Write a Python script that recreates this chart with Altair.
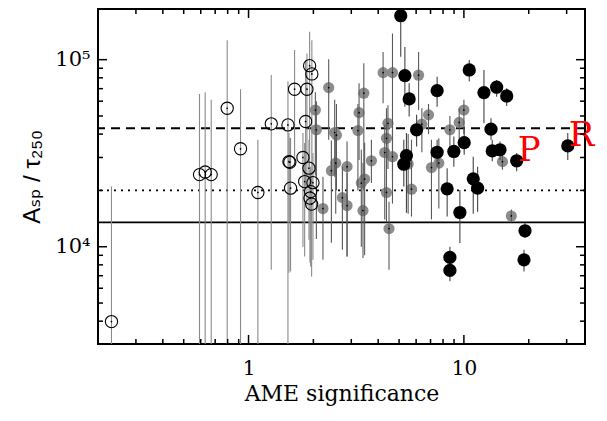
import altair as alt
import pandas as pd

# ---------------- data ----------------
# open circles: low AME significance
open_x = [0.231, 0.592, 0.629, 0.671, 0.796, 0.918, 1.105, 1.275, 1.524, 1.540, 1.555, 1.567,
          1.636, 1.789, 1.822, 1.841, 1.867, 1.921, 1.968, 1.908, 1.991, 1.943, 1.928, 1.963]
open_y = [3980, 24300, 25100, 24300, 55000, 33400, 19500, 45400, 44800, 28500, 28300, 20560,
          69500, 30000, 22300, 46700, 69500, 92900, 83900, 26300, 22000, 19700, 18200, 16900]
open_lo = [1000, 1000, 1000, 1000, 1000, 1000, 1000, 7540, 1000, 7260, 13650, 7380,
           30300, 10000, 8880, 21000, 16400, 26800, 21000, 10900, 8510, 7850, 8230, 6940]
open_hi = [21000, 65600, 67000, 61000, 127000, 69500, 37300, 82800, 76400, 40500, 38000, 38200,
           112700, 40500, 35900, 99600, 108000, 141000, 127000, 37300, 31700, 26800, 25800, 23700]

# grey filled circles: intermediate significance
gray_x = [2.356, 2.043, 2.065, 2.216, 2.512, 2.56, 2.54, 2.425, 2.867, 2.728, 2.867,
          3.26, 3.22, 3.43, 3.72, 3.34, 3.46, 3.40, 4.215, 4.66, 4.44, 4.37, 4.29, 4.66,
          4.37, 4.49, 6.16, 6.38, 6.85, 5.51, 5.71, 7.07, 7.65, 8.61, 9.51, 10.0, 15.1, 16.6]
gray_y = [70900, 53800, 42200, 16000, 40800, 39500, 28000, 25500, 26800, 18300, 16600,
          52100, 41800, 66200, 28800, 21900, 23000, 15600, 85300, 85300, 45700, 38000, 31900, 30300,
          19500, 12500, 82600, 45200, 50700, 27700, 20300, 26500, 28000, 42200, 46200, 53800, 28500, 14600]
gray_lo = [37300, 24000, 11000, 8510, 23700, 20000, 15000, 10500, 8880, 9640, 8880,
           29100, 20000, 20000, 21900, 10000, 9000, 8700, 58500, 22800, 26000, 20000, 14000, 17000,
           13500, 7540, 53800, 32000, 40000, 15000, 14500, 14000, 16000, 32000, 34000, 40000, 25800, 13500]
gray_hi = [100500, 67000, 60000, 23700, 61000, 58000, 40000, 37000, 36500, 26800, 24800,
           74800, 58000, 95700, 37300, 33000, 36000, 28000, 110000, 138000, 57000, 55000, 45000, 42000,
           26000, 17400, 110000, 55000, 58000, 40000, 37300, 37300, 38000, 50000, 55000, 61000, 31700, 15800]

# black filled circles: high significance
black_x = [5.09, 5.32, 5.57, 6.03, 5.41, 5.26, 7.51, 7.51, 8.36, 8.98, 8.61, 8.61, 9.58, 10.03,
           10.59, 11.05, 11.58, 12.39, 13.36, 13.54, 14.71, 14.19, 15.8, 17.58, 19.22, 19.01, 30.36]
black_y = [171800, 82200, 61700, 42200, 30700, 27600, 68300, 32000, 20400, 32300, 8770, 7470, 15240, 36000,
           88100, 23070, 20560, 66700, 42500, 32540, 33000, 71230, 63980, 28800, 12170, 8510, 34600]
black_lo = [103800, 56100, 49700, 34300, 15200, 21000, 56100, 26800, 14500, 26800, 7850, 6530, 10460, 31000,
            76400, 15000, 15400, 45700, 37300, 28600, 29100, 63400, 56600, 25300, 11130, 7380, 29100]
black_hi = [280000, 117000, 74800, 50700, 40500, 37300, 81100, 37300, 26300, 38800, 10000, 8510, 20100, 43900,
            99600, 30300, 26800, 88100, 48600, 37300, 36500, 77900, 70300, 31700, 13380, 9640, 40500]

# threshold lines
hline_y = [13500, 20000, 43000]

# labelled sources
label_text = ["P", "R"]
label_x = [17.58, 30.36]
label_y = [28800, 34600]

# axis ticks
x_major = [1, 10]
x_minor = [0.3, 0.4, 0.5, 0.6, 0.7, 0.8, 0.9, 2, 3, 4, 5, 6, 7, 8, 9, 20, 30]
y_major = [10000, 100000]
y_minor = [4000, 5000, 6000, 7000, 8000, 9000, 20000, 30000, 40000, 50000, 60000, 70000, 80000, 90000]

# ---------------- build tables ----------------
def grp(name, xs, ys, lo, hi):
    return pd.DataFrame({"x": xs, "y": ys, "lo": lo, "hi": hi, "g": name})

df_open = grp("open", open_x, open_y, open_lo, open_hi)
df_gray = grp("gray", gray_x, gray_y, gray_lo, gray_hi)
df_black = grp("black", black_x, black_y, black_lo, black_hi)
df_all = pd.concat([df_open, df_gray, df_black], ignore_index=True)
df_h = pd.DataFrame({"y": hline_y})
df_lab = pd.DataFrame({"x": label_x, "y": label_y, "t": label_text})
df_xmaj = pd.DataFrame({"v": x_major})
df_xmin = pd.DataFrame({"v": x_minor})
df_ymaj = pd.DataFrame({"v": y_major})
df_ymin = pd.DataFrame({"v": y_minor})

W, H = 487, 335
F = "DejaVu Serif"
FS = "Liberation Sans, DejaVu Sans, sans-serif"

xscale = alt.Scale(type="log", domain=[0.2, 36.5], nice=False)
yscale = alt.Scale(type="log", domain=[3020, 186600], nice=False)

xaxis = alt.Axis(values=x_major, format=".0f", title="AME significance", grid=False, ticks=False,
                 domain=False, labelFont=F, labelFontSize=20, labelPadding=14, labelColor="black",
                 titleFont=F, titleFontSize=22, titleFontWeight="normal", titleColor="black",
                 titlePadding=5, labelFlush=False)
yaxis = alt.Axis(values=y_major, labelExpr="datum.value < 50000 ? '10⁴' : '10⁵'",
                 title="Aₛₚ  /  τ₂₅₀", grid=False, ticks=False, domain=False,
                 labelFont=F, labelFontSize=21, labelPadding=8, labelColor="black",
                 titleFont=FS, titleFontSize=24, titleFontWeight="normal", titleColor="black",
                 titlePadding=10)


def X(f):
    return alt.X(f"{f}:Q", scale=xscale, axis=xaxis)


def Y(f):
    return alt.Y(f"{f}:Q", scale=yscale, axis=yaxis)


layers = []

# threshold lines
for val, dash in zip(hline_y, [[1, 0], [2, 5], [9, 6]]):
    layers.append(
        alt.Chart(df_h[df_h.y == val]).mark_rule(color="black", strokeWidth=1.8, strokeDash=dash, clip=True)
        .encode(y=Y("y"))
    )

# grey circles
layers.append(alt.Chart(df_gray).mark_circle(size=125, color="#8c8c8c", opacity=1, clip=True)
              .encode(x=X("x"), y=Y("y")))

# error bars
layers.append(
    alt.Chart(df_all).mark_rule(strokeWidth=1.1, clip=True).encode(
        x=X("x"), y=Y("lo"), y2=alt.Y2("hi"),
        color=alt.Color("g:N", scale=alt.Scale(domain=["open", "gray", "black"],
                                               range=["#8a8a8a", "#5a5a5a", "#444444"]), legend=None)
    )
)

# black circles
layers.append(alt.Chart(df_black).mark_circle(size=175, color="black", opacity=1, clip=True)
              .encode(x=X("x"), y=Y("y")))

# open circles
layers.append(alt.Chart(df_open).mark_point(shape="circle", filled=False, size=150, color="black",
                                            strokeWidth=1.1, opacity=1, clip=True)
              .encode(x=X("x"), y=Y("y")))

# centre dots
layers.append(alt.Chart(pd.concat([df_open, df_gray])).mark_circle(size=3, color="black", opacity=1, clip=True)
              .encode(x=X("x"), y=Y("y")))

# labels P and R
layers.append(alt.Chart(df_lab).mark_text(font=F, fontSize=34, color="red", align="left",
                                          baseline="alphabetic", dx=1)
              .encode(x=X("x"), y=Y("y"), text="t:N"))

# inward ticks on all four sides
for d, L in [(df_xmaj, 9), (df_xmin, 5)]:
    layers.append(alt.Chart(d).mark_rule(color="black", strokeWidth=1.5)
                  .encode(x=X("v"), y=alt.value(H), y2=alt.value(H - L)))
    layers.append(alt.Chart(d).mark_rule(color="black", strokeWidth=1.5)
                  .encode(x=X("v"), y=alt.value(0), y2=alt.value(L)))
for d, L in [(df_ymaj, 9), (df_ymin, 5)]:
    layers.append(alt.Chart(d).mark_rule(color="black", strokeWidth=1.5)
                  .encode(y=Y("v"), x=alt.value(0), x2=alt.value(L)))
    layers.append(alt.Chart(d).mark_rule(color="black", strokeWidth=1.5)
                  .encode(y=Y("v"), x=alt.value(W), x2=alt.value(W - L)))

chart = alt.layer(*layers).properties(
    width=W, height=H,
    autosize=alt.AutoSizeParams(type="none"),
    padding={"left": 90, "top": 1, "right": 14, "bottom": 70},
    background="white",
).configure_view(stroke="black", strokeWidth=2)

chart.save("out.html", embed_options={"renderer": "svg", "actions": False})
